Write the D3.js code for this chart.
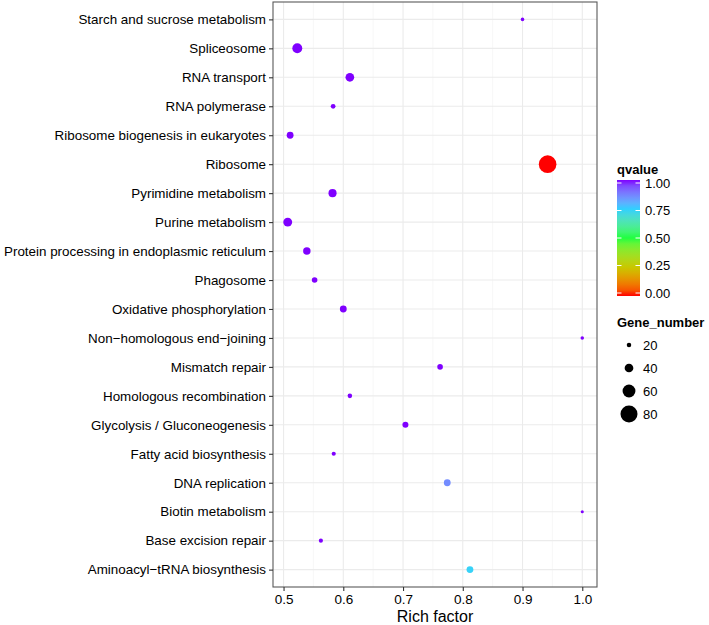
<!DOCTYPE html>
<html><head><meta charset="utf-8">
<script src="https://cdn.jsdelivr.net/npm/d3@7"></script>
<style>body{margin:0;background:#fff}svg{display:block;font-family:"Liberation Sans",Arial,sans-serif}</style>
</head><body>
<script>
const categories = ["Starch and sucrose metabolism","Spliceosome","RNA transport","RNA polymerase","Ribosome biogenesis in eukaryotes","Ribosome","Pyrimidine metabolism","Purine metabolism","Protein processing in endoplasmic reticulum","Phagosome","Oxidative phosphorylation","Non\u2212homologous end\u2212joining","Mismatch repair","Homologous recombination","Glycolysis / Gluconeogenesis","Fatty acid biosynthesis","DNA replication","Biotin metabolism","Base excision repair","Aminoacyl\u2212tRNA biosynthesis"];
const richFactor = [0.900,0.523,0.611,0.583,0.511,0.942,0.582,0.507,0.539,0.552,0.600,1.000,0.762,0.611,0.704,0.584,0.774,1.000,0.5625,0.812];
const geneNumber = [15,46,40,21,31,83,37,41,34,25,31,15,25,20,27,18,31,13,18,31];
const qvalue = [1,1,1,1,1,0.0,1,1,1,1,1,1,1,1,1,1,0.86,1,1,0.74];
const xTicks = [0.5,0.6,0.7,0.8,0.9,1.0];
const qTicks = [0,0.25,0.5,0.75,1.0];
const sizeBreaks = [20,40,60,80];
const qColors = ["#FF0000","#C8C800","#20FF40","#30D0FF","#7F00FF"];

const W=709,H=625;
const svg=d3.select("body").append("svg").attr("width",W).attr("height",H);
const P={l:273,r:597,t:2,b:587};

const xmin=d3.min(richFactor), xmax=d3.max(richFactor), xr=xmax-xmin;
const x=d3.scaleLinear().domain([xmin-0.05*xr, xmax+0.05*xr]).range([P.l,P.r]);
const y=d3.scalePoint().domain(categories).range([P.t,P.b]).padding(0.6);
const color=d3.scaleLinear().domain([0,0.25,0.5,0.75,1]).range(qColors).interpolate(d3.interpolateLab);
const diam=d3.scaleLinear().domain([0,80]).range([0.4,17]);

// grid
const g=svg.append("g");
const minor=d3.range(0.45,1.06,0.1).filter(v=>x(v)>P.l&&x(v)<P.r);
g.selectAll(".mn").data(minor).join("line").attr("x1",d=>x(d)).attr("x2",d=>x(d)).attr("y1",P.t).attr("y2",P.b).attr("stroke","#F2F2F2").attr("stroke-width",0.6);
g.selectAll(".mj").data(xTicks).join("line").attr("x1",d=>x(d)).attr("x2",d=>x(d)).attr("y1",P.t).attr("y2",P.b).attr("stroke","#EBEBEB").attr("stroke-width",1.1);
g.selectAll(".hy").data(categories).join("line").attr("x1",P.l).attr("x2",P.r).attr("y1",d=>y(d)).attr("y2",d=>y(d)).attr("stroke","#EBEBEB").attr("stroke-width",1.1);

// points
const data=categories.map((c,i)=>({c,r:richFactor[i],n:geneNumber[i],q:qvalue[i]}));
svg.append("g").selectAll("circle").data(data).join("circle")
 .attr("cx",d=>x(d.r)).attr("cy",d=>y(d.c)).attr("r",d=>diam(d.n)/2).attr("fill",d=>color(d.q));

// border
svg.append("rect").attr("x",P.l).attr("y",P.t).attr("width",P.r-P.l).attr("height",P.b-P.t).attr("fill","none").attr("stroke","#595959").attr("stroke-width",1.1);

// axes
const ax=d3.axisBottom(x).tickValues(xTicks).tickFormat(d3.format(".1f")).tickSize(4).tickPadding(3);
const gx=svg.append("g").attr("transform",`translate(0,${P.b})`).call(ax);
gx.select(".domain").remove();
gx.selectAll("line").attr("stroke","#333").attr("stroke-width",1.1);
gx.selectAll("text").attr("fill","#000").attr("font-size",13.5).attr("font-family","Liberation Sans, Arial, sans-serif");
const ay=d3.axisLeft(y).tickSize(4).tickPadding(3);
const gy=svg.append("g").attr("transform",`translate(${P.l},0)`).call(ay);
gy.select(".domain").remove();
gy.selectAll("line").attr("stroke","#333").attr("stroke-width",1.1);
gy.selectAll("text").attr("fill","#000").attr("font-size",13.4).attr("font-family","Liberation Sans, Arial, sans-serif");

svg.append("text").attr("x",(P.l+P.r)/2).attr("y",622).attr("text-anchor","middle").attr("font-size",16).text("Rich factor");

// color legend
const lx=617, cbTop=180, cbBot=296, cbW=23;
svg.append("text").attr("x",lx).attr("y",174).attr("font-size",13).attr("font-weight","bold").text("qvalue");
const defs=svg.append("defs");
const grad=defs.append("linearGradient").attr("id","qg").attr("x1",0).attr("x2",0).attr("y1",1).attr("y2",0);
d3.range(0,1.0001,0.05).forEach(t=>grad.append("stop").attr("offset",t).attr("stop-color",color(t)));
svg.append("rect").attr("x",lx).attr("y",cbTop).attr("width",cbW).attr("height",cbBot-cbTop).attr("fill","url(#qg)");
const qs=d3.scaleLinear().domain([0,1]).range([cbBot-3,cbTop+3]);
qTicks.forEach(t=>{
  svg.append("line").attr("x1",lx).attr("x2",lx+4.5).attr("y1",qs(t)).attr("y2",qs(t)).attr("stroke","#fff").attr("stroke-width",1);
  svg.append("line").attr("x1",lx+cbW-4.5).attr("x2",lx+cbW).attr("y1",qs(t)).attr("y2",qs(t)).attr("stroke","#fff").attr("stroke-width",1);
  svg.append("text").attr("x",lx+28).attr("y",qs(t)).attr("dy","0.36em").attr("font-size",13).text(d3.format(".2f")(t));
});

// size legend
svg.append("text").attr("x",lx).attr("y",327).attr("font-size",13).attr("font-weight","bold").text("Gene_number");
const sy=d3.scaleLinear().domain([20,80]).range([345,414]);
sizeBreaks.forEach(b=>{
  svg.append("circle").attr("cx",629).attr("cy",sy(b)).attr("r",diam(b)/2).attr("fill","#000");
  svg.append("text").attr("x",643).attr("y",sy(b)).attr("dy","0.36em").attr("font-size",13).text(b);
});
</script>
</body></html>
